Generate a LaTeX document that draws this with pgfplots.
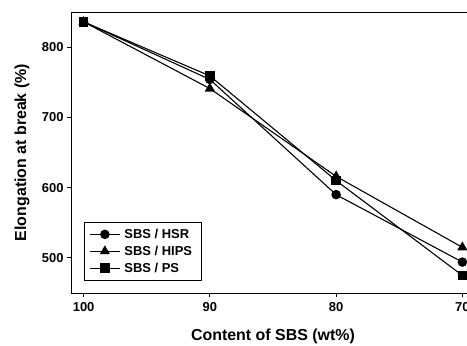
\documentclass[border=0pt]{standalone}
\usepackage{fontspec}
\setmainfont{Liberation Sans}
\usepackage{pgfplots}
\pgfplotsset{compat=1.18}
\begin{document}
\begin{tikzpicture}
\useasboundingbox (-71bp,-53bp) rectangle (396bp,293bp);
\clip (-71bp,-53bp) rectangle (396bp,293bp);
\begin{axis}[
  at={(0,0)}, anchor=south west,
  scale only axis, width=404bp, height=281bp,
  x dir=reverse,
  xmin=69, xmax=101, ymin=450, ymax=850,
  xtick={70,80,90,100}, ytick={500,600,700,800},
  tick align=outside, xtick pos=bottom, ytick pos=left,
  major tick length=4bp,
  axis line style={black, line width=0.9pt},
  tick style={black, line width=0.8pt},
  /pgf/number format/assume math mode=true,
  tick label style={font=\fontsize{13}{15}\selectfont\bfseries},
  xticklabel style={yshift=-2bp},
  label style={font=\fontsize{16}{19}\selectfont\bfseries},
  xlabel={Content of SBS (wt\%)},
  ylabel={Elongation at break (\%)},
  xlabel style={at={(axis description cs:0.5,-0.153)}, anchor=center},
  ylabel style={at={(axis description cs:-0.1213,0.5)}, anchor=center, rotate=0},
  legend style={at={(rel axis cs:0.032,0.043)}, anchor=south west,
    font=\fontsize{13}{15}\selectfont\bfseries, draw=black, line width=0.8pt,
    row sep=2bp, inner xsep=5bp, inner ysep=5bp,
    nodes={inner xsep=4bp}},
  legend cell align=left,
  legend image code/.code={
    \draw[mark repeat=2,mark phase=2] plot coordinates {(0bp,0bp) (15bp,0bp) (30bp,0bp)};
  },
  every axis plot/.append style={black, line width=1.1pt, mark options={solid, fill=black}},
]
\addplot[mark=*, mark size=4.2bp] coordinates {(100,836) (90,754) (80,590) (70,494)};
\addlegendentry{SBS / HSR}
\addplot[mark=triangle*, mark size=4.8bp] coordinates {(100,836) (90,741) (80,616) (70,515)};
\addlegendentry{SBS / HIPS}
\addplot[mark=square*, mark size=4.2bp] coordinates {(100,836) (90,759) (80,610) (70,475)};
\addlegendentry{SBS / PS}
\end{axis}
\end{tikzpicture}
\end{document}
